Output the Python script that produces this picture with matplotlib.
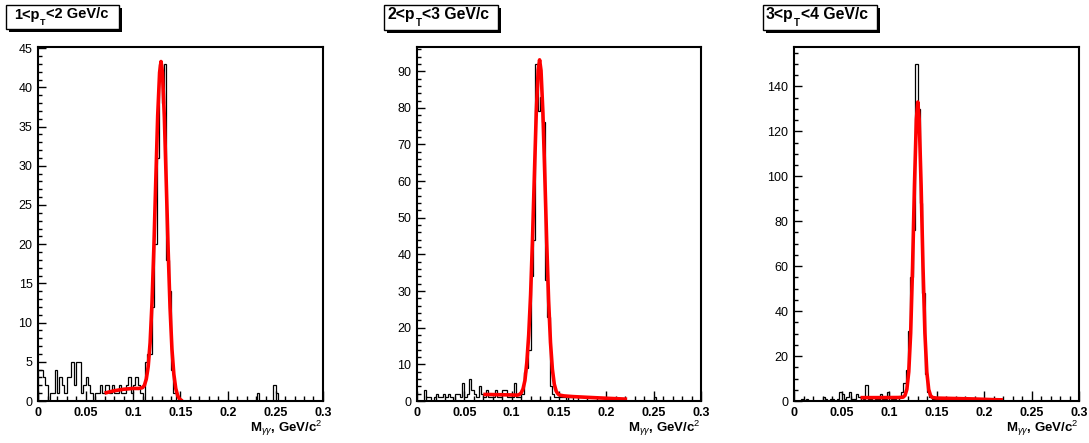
import numpy as np
import matplotlib
matplotlib.use("Agg")
import matplotlib.pyplot as plt
from matplotlib.patches import Rectangle
from matplotlib.ticker import MultipleLocator

plt.rcParams['font.family'] = ['Liberation Sans', 'DejaVu Sans']
plt.rcParams['mathtext.fontset'] = 'custom'
plt.rcParams['mathtext.rm'] = 'Liberation Sans'
plt.rcParams['mathtext.bf'] = 'Liberation Sans:bold'
plt.rcParams['mathtext.it'] = 'Liberation Sans:italic'

W, H = 1089, 443

# ---------------- data ----------------
BIN_WIDTH = 0.0025
N_BINS = 120

# title pieces: main text before subscript, subscript, text after subscript
title_pre = ["1<p", "2<p", "3<p"]
title_sub = ["T", "T", "T"]
title_post = ["<2 GeV/c", "<3 GeV/c", "<4 GeV/c"]

counts_1 = [4, 4, 3, 2, 0, 1, 1, 4, 1, 3,
            2, 1, 3, 3, 5, 2, 5, 5, 1, 2,
            3, 2, 1, 0, 1, 1, 2, 1, 2, 2,
            1, 2, 1, 1, 2, 1, 1, 2, 3, 1,
            2, 3, 2, 1, 0, 5, 6, 6, 12, 20,
            31, 43, 38, 43, 18, 14, 4, 1, 0, 0,
            0, 0, 0, 0, 0, 0, 0, 0, 0, 0,
            0, 0, 0, 0, 0, 0, 0, 0, 0, 0,
            0, 0, 0, 0, 0, 0, 0, 0, 0, 0,
            0, 0, 1, 0, 0, 0, 0, 0, 0, 2,
            1, 0, 0, 0, 0, 0, 0, 0, 0, 0,
            0, 0, 0, 0, 0, 0, 0, 0, 0, 0]

counts_2 = [0, 0, 0, 3, 1, 1, 0, 1, 2, 1,
            1, 2, 1, 2, 1, 0, 2, 2, 1, 5,
            1, 2, 6, 3, 2, 1, 4, 2, 1, 3,
            1, 1, 1, 3, 1, 1, 3, 3, 1, 1,
            1, 5, 1, 1, 2, 8, 9, 14, 34, 44,
            92, 79, 83, 76, 33, 23, 4, 2, 1, 1,
            1, 1, 1, 0, 1, 1, 0, 0, 0, 0,
            0, 0, 0, 0, 0, 0, 0, 0, 0, 0,
            0, 0, 0, 0, 0, 0, 0, 0, 0, 0,
            0, 0, 0, 0, 0, 0, 0, 0, 0, 0,
            1, 0, 0, 0, 0, 0, 0, 0, 0, 0,
            0, 0, 0, 0, 0, 0, 0, 0, 0, 0]

counts_3 = [0, 0, 0, 1, 0, 1, 0, 0, 0, 0,
            0, 0, 2, 1, 0, 1, 1, 0, 1, 4,
            3, 1, 2, 4, 1, 1, 3, 2, 2, 1,
            7, 1, 1, 2, 1, 1, 3, 1, 1, 4,
            2, 1, 1, 2, 2, 4, 8, 14, 31, 55,
            76, 150, 130, 88, 48, 12, 4, 2, 1, 1,
            1, 0, 0, 0, 0, 0, 0, 0, 1, 0,
            0, 0, 0, 0, 0, 0, 0, 0, 1, 0,
            0, 0, 0, 0, 0, 0, 0, 0, 0, 0,
            0, 0, 0, 0, 0, 0, 0, 0, 0, 0,
            0, 0, 0, 0, 0, 0, 0, 0, 0, 0,
            0, 0, 0, 0, 0, 0, 0, 0, 0, 0]

# fit curves (x in GeV/c^2, y in counts)
fit1_x = [0.070, 0.080, 0.090, 0.100, 0.106, 0.110, 0.112, 0.114, 0.116, 0.118,
          0.120, 0.122, 0.124, 0.126, 0.128, 0.1295, 0.131, 0.133, 0.135, 0.137,
          0.139, 0.141, 0.143, 0.145, 0.147, 0.149, 0.152]
fit1_y = [1.0, 1.3, 1.5, 1.6, 1.6, 1.7, 2.0, 2.8, 4.4, 7.4,
          12.5, 19.7, 28.2, 36.4, 41.9, 43.3, 41.9, 36.2, 27.9, 19.3,
          11.9, 6.6, 3.4, 1.6, 0.7, 0.25, 0.0]

fit2_x = [0.070, 0.080, 0.090, 0.100, 0.106, 0.108, 0.110, 0.112, 0.114, 0.116,
          0.118, 0.120, 0.122, 0.124, 0.126, 0.128, 0.1295, 0.131, 0.133, 0.135,
          0.137, 0.139, 0.141, 0.143, 0.145, 0.147, 0.149, 0.151, 0.155, 0.165,
          0.180, 0.200, 0.222]
fit2_y = [1.8, 1.75, 1.7, 1.65, 1.6, 1.75, 2.2, 3.3, 5.6, 10.5,
          18.0, 29.0, 44.0, 61.7, 78.8, 90.3, 93.1, 90.2, 78.7, 61.6,
          43.4, 27.6, 16.0, 8.7, 4.6, 2.7, 1.9, 1.6, 1.4, 1.2,
          1.0, 0.75, 0.5]

fit3_x = [0.070, 0.090, 0.110, 0.1148, 0.1168, 0.1188, 0.1208, 0.1228, 0.1248, 0.1268,
          0.1288, 0.1303, 0.1318, 0.1338, 0.1358, 0.1378, 0.1398, 0.1418, 0.1438, 0.1458,
          0.150, 0.170, 0.190, 0.210, 0.220]
fit3_y = [1.5, 1.5, 1.55, 1.7, 2.45, 5.2, 13.0, 30.2, 59.5, 95.9,
          125.3, 133.0, 125.3, 95.9, 59.5, 30.2, 12.9, 5.1, 2.35, 1.55,
          1.3, 1.1, 0.9, 0.6, 0.5]

y_max = [45.15, 96.6, 157.5]
y_major = [5, 10, 20]
y_minor = [1, 2, 5]
x_tick_vals = [0, 0.05, 0.1, 0.15, 0.2, 0.25, 0.3]
x_tick_labels = ["0", "0.05", "0.1", "0.15", "0.2", "0.25", "0.3"]
x_label = r"M$_{\gamma\gamma}$, GeV/c$^{2}$"

all_counts = [counts_1, counts_2, counts_3]
all_fit_x = [fit1_x, fit2_x, fit3_x]
all_fit_y = [fit1_y, fit2_y, fit3_y]

# ---------------- layout (pixels) ----------------
axes_px = [(38, 323), (417, 701), (794, 1079)]
ax_top, ax_bot = 47, 401
boxes_px = [(6, 5, 113, 24), (384, 5, 114, 25), (763, 5, 114, 25)]
title_text_px = [(14, 18.5), (388, 19), (766, 19)]
title_sizes = [10.5, 11.3, 11.3]

fig = plt.figure(figsize=(W / 100, H / 100), dpi=100)
fig.patch.set_facecolor('white')
renderer = fig.canvas.get_renderer()

edges = np.arange(N_BINS + 1) * BIN_WIDTH

for i in range(3):
    l, r = axes_px[i]
    ax = fig.add_axes([l / W, 1 - ax_bot / H, (r - l) / W, (ax_bot - ax_top) / H])
    ax.stairs(all_counts[i], edges, color='black', lw=0.9, baseline=0)
    ax.plot(all_fit_x[i], all_fit_y[i], color='#ff0000', lw=2.6, solid_capstyle='butt',
            solid_joinstyle='round')
    ax.set_xlim(0, 0.3)
    ax.set_ylim(0, y_max[i])
    for s in ax.spines.values():
        s.set_linewidth(1.5)
        s.set_color('black')
    ax.set_xticks(x_tick_vals)
    ax.set_xticklabels(x_tick_labels, fontsize=9, fontweight='bold')
    ax.xaxis.set_minor_locator(MultipleLocator(0.01))
    ax.yaxis.set_major_locator(MultipleLocator(y_major[i]))
    ax.yaxis.set_minor_locator(MultipleLocator(y_minor[i]))
    ax.tick_params(axis='x', which='major', direction='in', length=7.5, width=1.0, pad=4)
    ax.tick_params(axis='x', which='minor', direction='in', length=3.5, width=1.0)
    ax.tick_params(axis='y', which='major', direction='in', length=6.0, width=1.0, pad=4,
                   labelsize=9)
    ax.tick_params(axis='y', which='minor', direction='in', length=3.0, width=1.0)
    ax.text(1.0, -(428 - ax_bot) / (ax_bot - ax_top), x_label, transform=ax.transAxes,
            ha='right', va='center', fontsize=9.5, fontweight='bold')

    # title box with shadow
    bx, by, bw, bh = boxes_px[i]
    sh = 3
    fig.patches.append(Rectangle(((bx + sh) / W, 1 - (by + bh + sh) / H), bw / W, bh / H,
                                 transform=fig.transFigure, facecolor='black',
                                 edgecolor='black', lw=0))
    fig.patches.append(Rectangle((bx / W, 1 - (by + bh) / H), bw / W, bh / H,
                                 transform=fig.transFigure, facecolor='white',
                                 edgecolor='black', lw=1.0))
    tx, ty = title_text_px[i]
    fs = title_sizes[i]
    t1 = fig.text(tx / W, 1 - ty / H, title_pre[i], ha='left', va='baseline',
                  fontsize=fs, fontweight='bold')
    w1 = t1.get_window_extent(renderer).width
    t2 = fig.text((tx + w1 + 0.5) / W, 1 - (ty + 6.5) / H, title_sub[i], ha='left',
                  va='baseline', fontsize=fs * 0.62, fontweight='bold')
    w2 = t2.get_window_extent(renderer).width
    fig.text((tx + w1 + w2 + 1.0) / W, 1 - ty / H, title_post[i], ha='left', va='baseline',
             fontsize=fs, fontweight='bold')

fig.savefig('out.png', dpi=100)
